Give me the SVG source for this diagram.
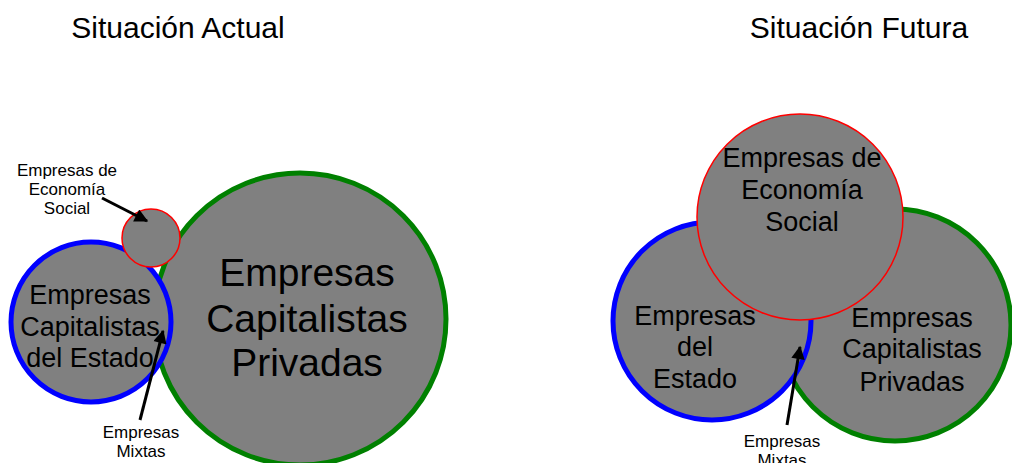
<svg xmlns="http://www.w3.org/2000/svg" width="1012" height="463" viewBox="0 0 1012 463">
<style>
text{font-family:"Liberation Sans",Arial,sans-serif;fill:#000;text-anchor:middle}
.t{font-size:30px}
.s{font-size:17px}
.m{font-size:27px}
.l{font-size:39px}
.c{fill:#808080}
.b{stroke:#0000ff;stroke-width:5}
.g{stroke:#008000;stroke-width:5}
.r{stroke:#ff0000;stroke-width:1.5}
.a{stroke:#000;stroke-width:3;fill:none;marker-end:url(#ah)}
</style>
<defs>
<marker id="ah" viewBox="0 0 10 10" refX="9" refY="5" markerWidth="5" markerHeight="4.5" orient="auto" markerUnits="strokeWidth">
<path d="M0,0L10,5L0,10z" fill="#000"/>
</marker>
</defs>
<text class="t" x="178" y="38">Situación Actual</text>
<text class="t" x="859" y="38">Situación Futura</text>
<g id="privadas-actual">
<circle class="c g" cx="300" cy="319" r="146"/>
<text class="l" x="307" y="286">Empresas</text>
<text class="l" x="307" y="332">Capitalistas</text>
<text class="l" x="307" y="376">Privadas</text>
</g>
<g id="estado-actual">
<circle class="c b" cx="91" cy="322" r="80"/>
<text class="m" x="90" y="304">Empresas</text>
<text class="m" x="90" y="336">Capitalistas</text>
<text class="m" x="90" y="367">del Estado</text>
</g>
<g id="social-actual">
<circle class="c r" cx="151" cy="238" r="29"/>
</g>
<g id="label-social-actual">
<text class="s" x="67" y="176">Empresas de</text>
<text class="s" x="67" y="195">Economía</text>
<text class="s" x="67" y="214">Social</text>
</g>
<g id="label-mixtas-actual">
<text class="s" x="141" y="438">Empresas</text>
<text class="s" x="141" y="457">Mixtas</text>
</g>
<g id="privadas-futura">
<circle class="c g" cx="895" cy="325" r="116"/>
<text class="m" x="912" y="327">Empresas</text>
<text class="m" x="912" y="358">Capitalistas</text>
<text class="m" x="912" y="391">Privadas</text>
</g>
<g id="estado-futura">
<circle class="c b" cx="712" cy="321" r="99"/>
<text class="m" x="695" y="325">Empresas</text>
<text class="m" x="695" y="356">del</text>
<text class="m" x="695" y="388">Estado</text>
</g>
<g id="social-futura">
<circle class="c r" cx="800" cy="217" r="103"/>
<text class="m" x="802" y="167">Empresas de</text>
<text class="m" x="802" y="199">Economía</text>
<text class="m" x="802" y="231">Social</text>
</g>
<g id="label-mixtas-futura">
<text class="s" x="782" y="447">Empresas</text>
<text class="s" x="782" y="466">Mixtas</text>
</g>
<g id="connectors">
<line class="a" x1="102" y1="198" x2="147" y2="221"/>
<line class="a" x1="140" y1="420" x2="163" y2="331"/>
<line class="a" x1="787" y1="425" x2="800" y2="347"/>
</g>
</svg>
